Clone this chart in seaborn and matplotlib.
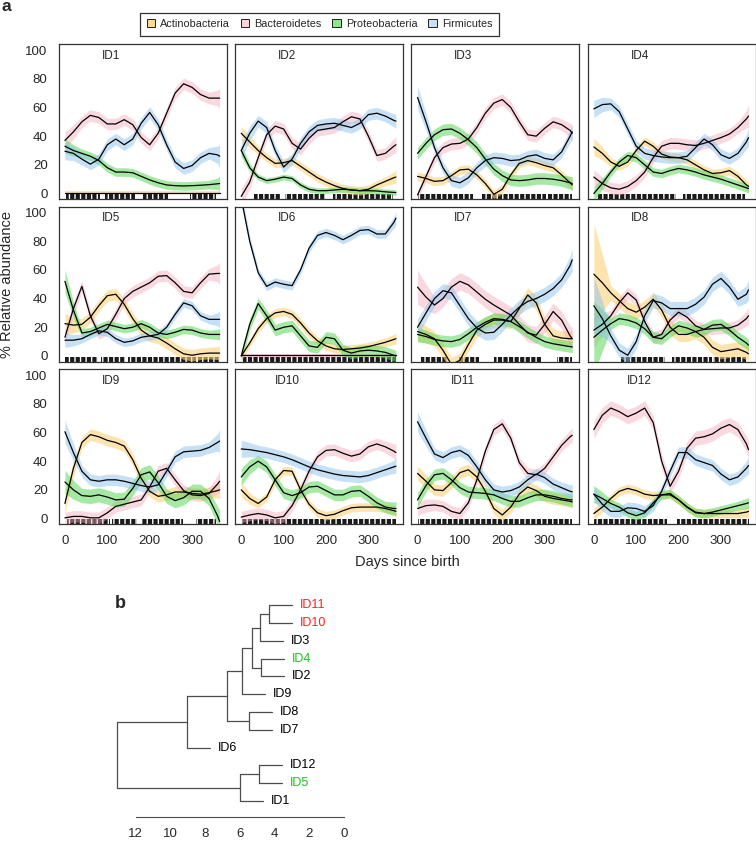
import numpy as np
import pandas as pd
import matplotlib
matplotlib.use("Agg")
import matplotlib.pyplot as plt
from matplotlib.patches import Patch
import seaborn as sns

sns.set_style("white")
plt.rcParams["font.family"] = ["Liberation Sans", "DejaVu Sans"]

# ---------- data ----------
DAYS = [0, 20, 40, 60, 80, 100, 120, 140, 160, 180, 200, 220, 240, 260, 280, 300, 320, 340, 360, 365]
PHYLA = ["Actinobacteria", "Bacteroidetes", "Proteobacteria", "Firmicutes"]
BAND_COLORS = ["#FDD37A", "#F6A9BA", "#5BD85B", "#8EC3EE"]
BAND_ALPHA = [0.6, 0.45, 0.55, 0.5]
LEGEND_COLORS = ["#F9DA8E", "#FAD3DA", "#8CE68C", "#C9E0F3"]
IDS = ["ID%d" % i for i in range(1, 13)]

ACTINO = {
    "ID1": [0.6, 0.6, 0.6, 0.6, 0.6, 0.6, 0.6, 0.6, 0.6, 0.6, 0.6, 0.6, 0.6, 0.6, 0.6, 0.6, 0.6, 0.6, 0.6, 0.6],
    "ID2": [42, 36, 30, 25, 21, 21.5, 23, 19, 15, 11, 8, 5.5, 3.5, 2.5, 2, 3, 6, 8.5, 11, 11.5],
    "ID3": [12, 10.5, 8.5, 9, 12.5, 16.5, 17, 13, 7, -0.5, 3, 13, 21, 23, 21.5, 19.5, 18, 13, 7.5, 6],
    "ID4": [32.5, 28, 22, 19, 22, 30, 36.5, 33, 27.5, 25.5, 25, 23.5, 20, 16.5, 14, 14.5, 16, 12, 6, 5],
    "ID5": [22.5, 21.5, 22, 27, 35, 42, 43, 36, 26, 18, 14, 12.5, 9, 5, 1.5, 0.5, 1.5, 2, 2, 2],
    "ID6": [0, 9, 19, 26, 30, 31, 29, 23, 16, 10.5, 7, 5, 4.5, 5, 5.5, 6.5, 8, 9.5, 11.5, 12],
    "ID7": [17, 15, 12, 4, -6, -3, 8, 18, 22, 25, 25, 24, 33, 42.5, 37, 22, 14, 12.5, 12, 12],
    "ID8": [57, 51, 44, 38.5, 33, 30.5, 34, 39.5, 32, 20, 15, 15, 17, 13, 6, 3, 4, 5, 2.5, 1.5],
    "ID9": [10.5, 35, 53, 58.5, 57, 54.5, 53, 50.5, 41, 28, 19, 15.5, 16.5, 18.5, 18.5, 17.5, 17, 18, 19.5, 20],
    "ID10": [20, 14, 10.5, 15, 27, 33.5, 33, 20, 10, 4, 2, 3, 5.5, 7.5, 8, 8, 8, 7, 5.5, 5],
    "ID11": [31.5, 26, 20, 19.5, 25, 32, 34, 29, 19, 7, 2.5, 8, 17, 22, 19.5, 15.5, 14, 13, 12, 11.6],
    "ID12": [3.5, 8, 14, 19, 21, 19.5, 17, 16, 16.5, 16.5, 13, 8, 4.5, 3.5, 3.5, 3.5, 3.5, 3.5, 4.5, 5],
}
BACTERO = {
    "ID1": [37, 43, 50, 54.5, 53, 48.5, 48.5, 51.5, 48, 39, 34, 42, 56, 70, 76.5, 74, 69, 66.5, 66.5, 66.5],
    "ID2": [-2, 8, 25, 41, 47, 45, 35, 31, 38.5, 44, 45, 46, 50, 53.5, 52, 40, 26.5, 28, 33, 34],
    "ID3": [-1, 12, 25, 32, 34.5, 35, 38, 46, 56, 63, 65.5, 60, 50, 41, 40, 45.5, 50, 48, 44, 42],
    "ID4": [11.5, 7, 4, 3, 5, 9, 15, 25, 33, 35, 35, 34, 33.5, 35, 37, 39, 41.5, 46, 52, 54],
    "ID5": [13, 33, 48.5, 28, 15.5, 19, 29, 40, 45, 48, 51, 55.5, 56, 51, 45, 44, 51, 57, 57.5, 57.5],
    "ID6": [0.4, 0.4, 0.4, 0.4, 0.4, 0.4, 0.4, 0.4, 0.4, 0.4, 0.4, 0.4, 0.4, 0.4, 0.4, 0.4, 0.4, 0.4, 0.4, 0.4],
    "ID7": [48, 41, 35.5, 40, 48, 52, 49.5, 44.5, 39.5, 35.5, 32, 28.5, 22, 16, 14.5, 22, 31, 25, 14, 12],
    "ID8": [18, 22, 28, 37, 44, 39, 24, 13, 15, 25, 30.5, 27, 21, 18.5, 19, 19.5, 19.5, 21.5, 26, 28],
    "ID9": [0.5, 1.5, 1.5, 0.5, 0.5, 4, 8.5, 10, 11.5, 13, 22, 33, 35, 27, 19.5, 16.5, 16, 17.5, 24, 26],
    "ID10": [1, 2.5, 3.5, 2.5, 0.5, 1.5, 9, 20, 33, 43, 47.5, 48, 45.5, 43.5, 45, 50, 52, 50, 47, 46],
    "ID11": [7, 9, 9.5, 8.5, 5, 3.5, 11, 27, 47, 62, 66, 56, 39, 31.5, 30.5, 35, 43, 51, 57, 58],
    "ID12": [62, 72, 77, 74.5, 71, 73.5, 77, 67, 40, 22.5, 33, 49, 56, 57, 59, 63, 65.5, 62, 52, 48],
}
PROTEO = {
    "ID1": [33, 30, 28, 26, 23, 18, 15, 15, 14.5, 12, 9.5, 7.5, 6, 5.5, 5.3, 5.5, 5.8, 6.2, 6.8, 7],
    "ID2": [30, 18, 11.5, 9, 10, 11.5, 10.5, 6, 3, 2, 2, 2.5, 3, 2.5, 2, 2, 1.8, 1.2, 0.8, 0.7],
    "ID3": [28, 35, 41, 44.5, 45, 42, 37.5, 32, 24, 17, 12.5, 9.5, 9, 9.5, 10.5, 10.5, 10, 9, 7.5, 7],
    "ID4": [0, 7, 15, 22, 26.5, 25, 20, 15, 14, 16, 17.5, 16.5, 15, 13, 11.5, 10, 8, 6, 4, 3.5],
    "ID5": [52, 32, 16, 17, 19.5, 22, 20.5, 19, 20, 22.5, 20, 16, 15, 16.5, 18.5, 18, 16, 15, 15, 15],
    "ID6": [0, 22, 36.5, 28, 18, 20, 21, 14, 7, 6, 13, 12, 4, 2, 3.5, 4, 3.5, 2.5, 0.5, 0],
    "ID7": [15, 13.5, 11.5, 10.5, 10, 11.5, 15.5, 20, 23.5, 26, 25.5, 24, 20.5, 16.5, 13, 10, 8.5, 7.5, 6.5, 6.3],
    "ID8": [13, 18, 22.5, 26, 25, 23, 19, 13, 12, 17, 21, 19.5, 17, 18.5, 21.5, 22, 18, 13, 9, 7.5],
    "ID9": [25.5, 20, 16, 15.5, 16.5, 15, 13, 13.5, 21, 30.5, 32.5, 25, 15.5, 12.5, 14.5, 19, 19, 14, 2, -2],
    "ID10": [29, 36, 40, 36, 27, 18, 16, 18, 22, 22.5, 19.5, 16.5, 16.5, 19, 19.5, 15.5, 11, 8, 7, 7],
    "ID11": [13, 23, 30.5, 31.5, 27, 21.5, 18.5, 18, 17.5, 16.5, 14, 12, 12, 14.5, 16.5, 16.5, 15.5, 14, 13, 13],
    "ID12": [17, 14, 10.5, 8, 4, 2, 4, 11, 16.5, 17.5, 13, 8, 4, 3.5, 4.5, 6, 7.5, 9, 10.5, 11],
}
FIRMI = {
    "ID1": [29.5, 28, 24, 20.5, 24, 34, 38, 34, 38, 49, 56.5, 48, 34, 22, 17.5, 19.5, 25, 28, 27, 26],
    "ID2": [30, 42, 50.5, 46, 30, 18.5, 24, 35, 43, 47.5, 48.5, 49, 47.5, 46, 49, 55, 56, 54, 51, 50.5],
    "ID3": [67, 50, 32, 18, 9, 7.5, 11, 18, 23, 25, 24.5, 23, 23.5, 26, 27, 24.5, 23.5, 29, 40, 43],
    "ID4": [59, 62, 62.5, 57, 45, 33, 28, 26.5, 25.5, 25, 25, 26, 32, 38, 34, 27, 24.5, 28, 36, 39],
    "ID5": [11, 11, 12, 15, 17.5, 16.5, 12, 9.5, 10.5, 13, 14, 15, 20, 29, 37, 35, 28, 25.5, 25.5, 25.5],
    "ID6": [110, 80, 58, 48.5, 51.5, 50, 49, 60, 75, 84, 86, 84, 81, 84, 87.5, 88, 85, 85, 93, 96],
    "ID7": [20, 30, 40, 45.5, 44, 35, 26, 19.5, 16, 16.5, 22, 28.5, 34, 38, 40, 43, 47, 53, 63, 67],
    "ID8": [35, 26, 14, 4, 0.5, 10, 28, 38.5, 37, 33, 33, 33, 36, 41, 50, 54, 48, 39.5, 43, 46],
    "ID9": [60.5, 46, 33, 27, 26, 27, 27, 26, 24.5, 23, 22, 23.5, 33, 43, 46.5, 47, 47.5, 49.5, 53, 54],
    "ID10": [48.5, 48, 47, 46, 44.5, 43, 41, 38.5, 36, 34, 32.5, 31, 30, 29.5, 29, 30, 32, 34, 36, 36.5],
    "ID11": [67.5, 56, 45, 42.5, 46, 47.5, 44, 36, 27, 20, 18.5, 19.5, 22, 27, 31, 28.5, 24, 21.5, 19, 18.6],
    "ID12": [17, 10, 5, 5, 7.5, 7, 5, 9, 19, 33, 46, 46, 41, 39, 37, 31, 27, 29, 35, 37],
}
SERIES = [ACTINO, BACTERO, PROTEO, FIRMI]

# confidence band half-widths (start, middle, end), in PHYLA order
BAND = {
    "ID1": [(1, 1, 1), (6, 4, 7), (5, 3, 5), (6, 4, 8)],
    "ID2": [(5, 3, 5), (6, 4, 6), (4, 2, 2), (6, 4, 5)],
    "ID3": [(3, 3, 4), (3, 4, 6), (4, 4, 5), (8, 4, 5)],
    "ID4": [(6, 3, 4), (5, 4, 8), (5, 3, 3), (6, 4, 6)],
    "ID5": [(7, 4, 5), (5, 4, 8), (8, 3, 4), (5, 3, 6)],
    "ID6": [(3, 3, 4), (1, 1, 1), (4, 4, 4), (5, 3, 5)],
    "ID7": [(7, 5, 6), (12, 6, 8), (5, 4, 4), (6, 5, 8)],
    "ID8": [(35, 5, 5), (12, 4, 6), (25, 4, 4), (20, 5, 7)],
    "ID9": [(7, 4, 6), (4, 4, 8), (8, 5, 8), (8, 4, 8)],
    "ID10": [(5, 3, 4), (4, 4, 6), (6, 4, 5), (6, 4, 5)],
    "ID11": [(5, 4, 4), (5, 4, 5), (5, 4, 5), (7, 4, 5)],
    "ID12": [(4, 3, 4), (6, 5, 6), (6, 3, 4), (5, 4, 6)],
}

# sampling days shown as rug (start day, end day)
RUG = {
    "ID1": [(2, 75), (79, 83), (95, 165), (185, 244), (295, 357)],
    "ID2": [(29, 92), (104, 131), (135, 198), (217, 358)],
    "ID3": [(2, 132), (151, 304), (308, 365)],
    "ID4": [(7, 195), (211, 356)],
    "ID5": [(1, 78), (85, 141), (149, 310), (313, 365)],
    "ID6": [(3, 365)],
    "ID7": [(9, 71), (95, 146), (181, 291), (330, 365)],
    "ID8": [(63, 169), (184, 278), (282, 360)],
    "ID9": [(5, 107), (110, 169), (181, 279), (310, 357)],
    "ID10": [(2, 365)],
    "ID11": [(2, 364)],
    "ID12": [(0, 172), (196, 367)],
}

# dendrogram (panel b): leaf order top -> bottom and merges (left, right, height)
LEAVES = ["ID11", "ID10", "ID3", "ID4", "ID2", "ID9", "ID8", "ID7", "ID6", "ID12", "ID5", "ID1"]
LEAF_COLORS = {"ID11": "#FF2020", "ID10": "#FF2020", "ID4": "#1FC01F", "ID5": "#1FC01F"}
MERGES = [
    ("ID11", "ID10", 4.32),  # m0
    ("m0", "ID3", 4.84),     # m1
    ("ID4", "ID2", 4.79),    # m2
    ("m1", "m2", 5.30),      # m3
    ("m3", "ID9", 5.88),     # m4
    ("ID8", "ID7", 5.47),    # m5
    ("m4", "m5", 6.76),      # m6
    ("m6", "ID6", 9.05),     # m7
    ("ID12", "ID5", 4.90),   # m8
    ("m8", "ID1", 5.97),     # m9
    ("m7", "m9", 13.07),     # m10
]
HANG = 1.307
DEND_TICKS = [0, 2, 4, 6, 8, 10, 12]

# ---------- figure ----------
W_PX, H_PX = 756, 842
fig = plt.figure(figsize=(W_PX / 100, H_PX / 100), dpi=100)

def fig_rect(left, top, width, height):
    return [left / W_PX, 1 - (top + height) / H_PX, width / W_PX, height / H_PX]

col_left = [58.7, 235.0, 411.3, 587.6]
row_top = [44.3, 206.7, 369.3]
pw, ph = 168, 155

for k, pid in enumerate(IDS):
    r, c = divmod(k, 4)
    ax = fig.add_axes(fig_rect(col_left[c], row_top[r], pw, ph))

    # rug of sampling days
    ax.broken_barh([(s, e - s) for s, e in RUG[pid]], (-4, 3.6),
                   facecolors="0.1", edgecolor="white", hatch="|||", lw=0)

    rows = []
    for j, name in enumerate(PHYLA):
        vals = np.array(SERIES[j][pid], dtype=float)
        s0, mid, s1 = BAND[pid][j]
        hw = np.full(len(DAYS), float(mid))
        hw[0], hw[1] = s0, (s0 + mid) / 2
        hw[-1], hw[-2] = s1, (s1 + mid) / 2
        ax.fill_between(DAYS, vals - hw, vals + hw, color=BAND_COLORS[j],
                        alpha=BAND_ALPHA[j], lw=0)
        for d, v in zip(DAYS, vals):
            rows.append({"day": d, "value": v, "phylum": name})
    df = pd.DataFrame(rows)
    sns.lineplot(data=df, x="day", y="value", hue="phylum",
                 palette={p: "black" for p in PHYLA}, legend=False,
                 lw=0.9, ax=ax)

    ax.set_xlim(-14.7, 381.7)
    ax.set_ylim(-4, 104)
    ax.set_xticks([0, 100, 200, 300])
    ax.set_yticks([0, 20, 40, 60, 80, 100])
    ax.set_xlabel("")
    ax.set_ylabel("")
    for sp in ax.spines.values():
        sp.set_visible(True)
        sp.set_color("0.2")
        sp.set_linewidth(0.9)
    ax.tick_params(direction="out", length=5, width=0.8, labelsize=9.5, pad=3, color="0.2")
    if c != 0:
        ax.tick_params(axis="y", left=False, labelleft=False)
    if r != 2:
        ax.tick_params(axis="x", bottom=False, labelbottom=False)
    ax.text(0.31, 0.925, pid, transform=ax.transAxes, ha="center", va="center", fontsize=8.5)

fig.text(7 / W_PX, 1 - 284 / H_PX, "% Relative abundance", rotation=90,
         ha="center", va="center", fontsize=10.5)
fig.text(407 / W_PX, 1 - 562 / H_PX, "Days since birth", ha="center", va="center", fontsize=10.5)

handles = [Patch(facecolor=col, edgecolor="black", lw=0.6) for col in LEGEND_COLORS]
leg = fig.legend(handles, PHYLA, ncol=4, loc="center",
                 bbox_to_anchor=(319.5 / W_PX, 1 - 24 / H_PX),
                 frameon=True, fancybox=False, edgecolor="black",
                 fontsize=7.8,
                 handlelength=0.8, handleheight=0.8, handletextpad=0.45,
                 columnspacing=1.0, borderpad=0.6)
leg.get_frame().set_linewidth(0.9)

fig.text(1 / W_PX, 1 - 11 / H_PX, "a", fontsize=12.5, fontweight="bold", va="baseline")
fig.text(115 / W_PX, 1 - 608 / H_PX, "b", fontsize=13, fontweight="bold", va="baseline")

# ---------- dendrogram ----------
axd = fig.add_axes(fig_rect(100, 592, 300, 225))
ypos = {name: 11 - i for i, name in enumerate(LEAVES)}
xpos = {}
for i, (a, b, h) in enumerate(MERGES):
    node = "m%d" % i
    for child in (a, b):
        cx = xpos.get(child, h - HANG)
        axd.plot([h, cx], [ypos[child], ypos[child]], color="0.3", lw=0.9)
        if child in LEAVES:
            axd.text(cx - 0.45, ypos[child], child, ha="left", va="center",
                     fontsize=9, color=LEAF_COLORS.get(child, "black"))
    axd.plot([h, h], [ypos[a], ypos[b]], color="0.3", lw=0.9)
    ypos[node] = (ypos[a] + ypos[b]) / 2
    xpos[node] = h

axd.set_xlim((344 - 100) / 17.35, (344 - 400) / 17.35)
axd.set_ylim(-0.9, 11.75)
for name in ["top", "left", "right"]:
    axd.spines[name].set_visible(False)
axd.spines["bottom"].set_bounds(0, 12)
axd.spines["bottom"].set_color("0.3")
axd.set_xticks(DEND_TICKS)
axd.set_yticks([])
axd.tick_params(axis="x", direction="out", length=5, width=0.8, labelsize=9.5, pad=3, color="0.3")

fig.savefig("out.png", dpi=100)
